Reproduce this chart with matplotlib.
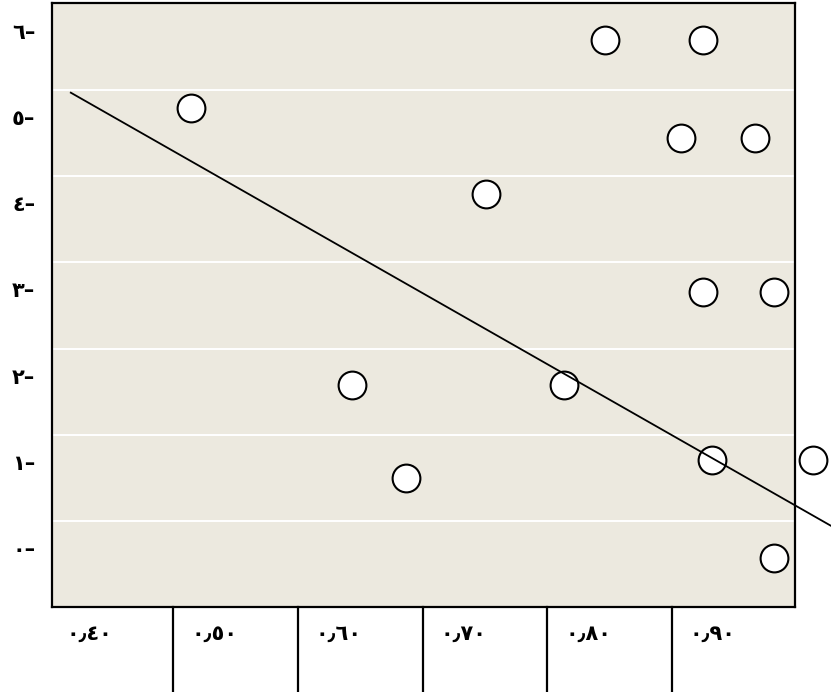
import matplotlib
matplotlib.use("Agg")
import matplotlib.pyplot as plt
from matplotlib.transforms import offset_copy
from matplotlib.lines import Line2D

# ---- data ----
x_vals = [0.514, 0.8465, 0.925, 0.9074, 0.9668, 0.7509, 0.925, 0.982,
          0.6433, 0.8135, 0.6867, 0.9322, 1.0133, 0.982]
y_vals = [5.10, 5.89, 5.89, 4.76, 4.76, 4.11, 2.97, 2.97,
          1.89, 1.89, 0.81, 1.02, 1.02, -0.12]
fit_x = [0.4177, 1.03]
fit_y = [5.28, 0.24]
y_ticks = [0, 1, 2, 3, 4, 5, 6]
y_labels = ["٠–", "١–", "٢–", "٣–", "٤–", "٥–", "٦–"]
x_cells = [0.40, 0.50, 0.60, 0.70, 0.80, 0.90]
x_labels = ["٠٫٤٠", "٠٫٥٠", "٠٫٦٠", "٠٫٧٠", "٠٫٨٠", "٠٫٩٠"]
grid_y = [0.313, 1.313, 2.313, 3.313, 4.313, 5.313]

plt.rcParams['font.family'] = ['DejaVu Sans']

fig = plt.figure(figsize=(8.31, 6.92), dpi=100)
ax = fig.add_axes([52/831, 85/692, 743/831, 604/692])
ax.set_facecolor("#ece9df")
ax.set_xlim(0.4026, 0.999)
ax.set_ylim(-0.684, 6.32)

for g in grid_y:
    ax.axhline(g, color="white", lw=1.4, zorder=1)

ax.plot(x_vals, y_vals, linestyle="none", marker="o", ms=20,
        mfc="white", mec="black", mew=1.5, clip_on=False, zorder=3)
ax.plot(fit_x, fit_y, color="black", lw=1.3, clip_on=False, zorder=4)

for s in ax.spines.values():
    s.set_linewidth(1.6)
    s.set_color("black")

ax.set_yticks(y_ticks)
ax.set_yticklabels(y_labels, fontsize=15, fontweight="bold")
ax.tick_params(axis="y", length=0, pad=12)
ax.set_xticks([])

trans = ax.get_xaxis_transform()
for v in x_cells[1:]:
    ax.add_line(Line2D([v, v], [0, -0.145], transform=trans, color="black",
                       lw=1.6, clip_on=False))
lab_trans = offset_copy(trans, fig=fig, x=13, units="points")
for v, lab in zip(x_cells, x_labels):
    ax.text(v, -0.045, lab, transform=lab_trans, ha="left", va="center",
            fontsize=15, fontweight="bold")

fig.savefig("out.png", dpi=100)
